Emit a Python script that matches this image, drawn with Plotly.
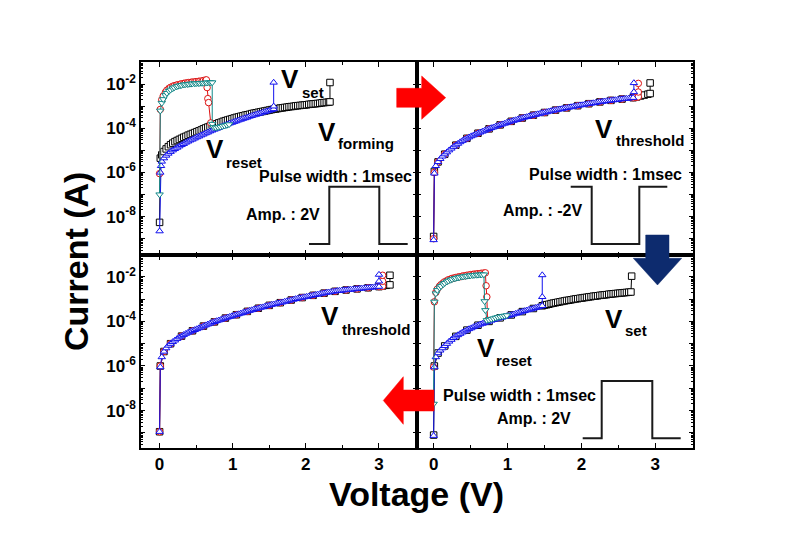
import numpy as np
import plotly.graph_objects as go

# ---------------- data (voltage V, log10 of current in A) ----------------
# Panel 1 : forming / set / reset
p1_black_forming = [(0.0,-8.26),(0.01,-5.35),(0.03,-5.20),(0.06,-5.05),(0.09,-4.93),(0.12,-4.83),(0.15,-4.74),(0.18,-4.67),(0.21,-4.60),(0.24,-4.55),(0.27,-4.50),(0.30,-4.45),(0.33,-4.40),(0.36,-4.36),(0.39,-4.31),(0.42,-4.27),(0.45,-4.23),(0.48,-4.19),(0.51,-4.15),(0.54,-4.11),(0.57,-4.07),(0.60,-4.02),(0.63,-3.98),(0.66,-3.94),(0.69,-3.90),(0.72,-3.86),(0.75,-3.83),(0.78,-3.79),(0.81,-3.75),(0.84,-3.72),(0.87,-3.68),(0.90,-3.65),(0.93,-3.62),(0.96,-3.59),(0.99,-3.56),(1.02,-3.53),(1.05,-3.50),(1.08,-3.48),(1.11,-3.45),(1.14,-3.43),(1.17,-3.40),(1.20,-3.38),(1.23,-3.36),(1.26,-3.33),(1.29,-3.31),(1.32,-3.29),(1.35,-3.27),(1.38,-3.25),(1.41,-3.23),(1.44,-3.21),(1.47,-3.19),(1.50,-3.17),(1.53,-3.15),(1.56,-3.13),(1.59,-3.12),(1.62,-3.10),(1.65,-3.08),(1.68,-3.07),(1.71,-3.05),(1.74,-3.04),(1.77,-3.02),(1.80,-3.01),(1.83,-3.00),(1.86,-2.98),(1.89,-2.97),(1.92,-2.96),(1.95,-2.95),(1.98,-2.94),(2.01,-2.93),(2.04,-2.91),(2.07,-2.90),(2.10,-2.89),(2.13,-2.88),(2.16,-2.87),(2.19,-2.86),(2.22,-2.84),(2.25,-2.83),(2.28,-2.82),(2.31,-2.81),(2.33,-2.80),(2.33,-1.92)]
p1_red_reset = [(0.0,-6.05),(0.01,-3.14),(0.03,-2.70),(0.05,-2.53),(0.08,-2.36),(0.10,-2.27),(0.13,-2.18),(0.15,-2.14),(0.18,-2.09),(0.20,-2.07),(0.23,-2.04),(0.25,-2.02),(0.28,-2.00),(0.30,-1.98),(0.33,-1.96),(0.35,-1.95),(0.38,-1.93),(0.40,-1.92),(0.43,-1.91),(0.45,-1.90),(0.48,-1.89),(0.50,-1.88),(0.53,-1.87),(0.55,-1.86),(0.58,-1.85),(0.60,-1.83),(0.63,-1.81),(0.64,-1.80),(0.65,-2.15),(0.66,-2.65),(0.67,-2.83),(0.70,-3.75)]
p1_blue_set = [(0.0,-8.66),(0.01,-6.00),(0.02,-5.70),(0.03,-5.50),(0.06,-5.35),(0.09,-5.23),(0.12,-5.14),(0.15,-5.06),(0.18,-4.99),(0.21,-4.93),(0.24,-4.87),(0.27,-4.81),(0.30,-4.75),(0.33,-4.70),(0.36,-4.64),(0.39,-4.59),(0.42,-4.54),(0.45,-4.50),(0.48,-4.45),(0.51,-4.40),(0.54,-4.36),(0.57,-4.31),(0.60,-4.27),(0.63,-4.22),(0.66,-4.18),(0.69,-4.13),(0.72,-4.09),(0.75,-4.05),(0.78,-4.01),(0.81,-3.97),(0.84,-3.93),(0.87,-3.89),(0.90,-3.85),(0.93,-3.81),(0.96,-3.77),(0.99,-3.74),(1.02,-3.70),(1.05,-3.67),(1.08,-3.63),(1.11,-3.60),(1.14,-3.56),(1.17,-3.53),(1.20,-3.50),(1.23,-3.46),(1.26,-3.43),(1.29,-3.40),(1.32,-3.37),(1.35,-3.34),(1.38,-3.31),(1.41,-3.28),(1.44,-3.25),(1.47,-3.22),(1.50,-3.19),(1.53,-3.16),(1.56,-3.12),(1.56,-3.00),(1.56,-1.92)]
p1_teal_reset = [(0.0,-7.00),(0.01,-3.20),(0.03,-2.85),(0.05,-2.68),(0.08,-2.50),(0.10,-2.40),(0.13,-2.31),(0.15,-2.25),(0.18,-2.19),(0.20,-2.15),(0.23,-2.11),(0.25,-2.08),(0.28,-2.06),(0.30,-2.04),(0.33,-2.02),(0.35,-2.01),(0.38,-2.00),(0.40,-1.99),(0.43,-1.98),(0.45,-1.97),(0.48,-1.965),(0.50,-1.96),(0.53,-1.955),(0.55,-1.95),(0.58,-1.945),(0.60,-1.94),(0.63,-1.935),(0.65,-1.93),(0.68,-1.925),(0.70,-1.92),(0.72,-1.92),(0.72,-3.80),(0.74,-3.95),(0.77,-3.97),(0.80,-3.95),(0.83,-3.93),(0.86,-3.90),(0.89,-3.88),(0.92,-3.85),(0.95,-3.82)]

# Panel 2 : threshold (after forming)
p2_black = [(0.0,-8.90),(0.01,-5.95),(0.06,-5.52),(0.15,-5.17),(0.30,-4.76),(0.45,-4.45),(0.60,-4.22),(0.75,-4.02),(0.90,-3.84),(1.05,-3.68),(1.20,-3.53),(1.35,-3.40),(1.50,-3.28),(1.65,-3.17),(1.80,-3.07),(1.95,-2.97),(2.10,-2.88),(2.25,-2.80),(2.40,-2.73),(2.55,-2.67),(2.70,-2.61),(2.75,-2.57),(2.80,-2.53),(2.85,-2.49),(2.90,-2.45),(2.93,-2.42),(2.93,-1.94)]
p2_red = [(0.0,-9.00),(0.01,-6.00),(0.06,-5.52),(0.15,-5.17),(0.30,-4.76),(0.45,-4.45),(0.60,-4.22),(0.75,-4.02),(0.90,-3.84),(1.05,-3.68),(1.20,-3.53),(1.35,-3.40),(1.50,-3.28),(1.65,-3.17),(1.80,-3.07),(1.95,-2.97),(2.10,-2.88),(2.25,-2.80),(2.40,-2.73),(2.55,-2.67),(2.70,-2.61),(2.74,-2.59),(2.77,-2.57),(2.77,-2.35),(2.77,-1.96)]
p2_blue = [(0.0,-9.06),(0.01,-6.04),(0.03,-5.70),(0.06,-5.52),(0.09,-5.38),(0.12,-5.27),(0.15,-5.17),(0.18,-5.08),(0.21,-4.99),(0.24,-4.91),(0.27,-4.83),(0.30,-4.76),(0.33,-4.69),(0.36,-4.62),(0.39,-4.56),(0.42,-4.50),(0.45,-4.45),(0.48,-4.40),(0.51,-4.35),(0.54,-4.31),(0.57,-4.26),(0.60,-4.22),(0.63,-4.18),(0.66,-4.14),(0.69,-4.10),(0.72,-4.06),(0.75,-4.02),(0.78,-3.98),(0.81,-3.95),(0.84,-3.91),(0.87,-3.88),(0.90,-3.84),(0.93,-3.81),(0.96,-3.78),(0.99,-3.74),(1.02,-3.71),(1.05,-3.68),(1.08,-3.65),(1.11,-3.62),(1.14,-3.59),(1.17,-3.56),(1.20,-3.53),(1.23,-3.50),(1.26,-3.48),(1.29,-3.45),(1.32,-3.43),(1.35,-3.40),(1.38,-3.38),(1.41,-3.35),(1.44,-3.33),(1.47,-3.30),(1.50,-3.28),(1.53,-3.26),(1.56,-3.23),(1.59,-3.21),(1.62,-3.19),(1.65,-3.17),(1.68,-3.15),(1.71,-3.13),(1.74,-3.11),(1.77,-3.09),(1.80,-3.07),(1.83,-3.05),(1.86,-3.03),(1.89,-3.01),(1.92,-2.99),(1.95,-2.97),(1.98,-2.95),(2.01,-2.94),(2.04,-2.92),(2.07,-2.90),(2.10,-2.88),(2.13,-2.87),(2.16,-2.85),(2.19,-2.84),(2.22,-2.82),(2.25,-2.80),(2.28,-2.79),(2.31,-2.77),(2.34,-2.76),(2.37,-2.75),(2.40,-2.73),(2.43,-2.72),(2.46,-2.71),(2.49,-2.70),(2.52,-2.68),(2.55,-2.67),(2.58,-2.66),(2.61,-2.65),(2.64,-2.64),(2.67,-2.62),(2.70,-2.61),(2.71,-2.35),(2.71,-1.94)]

# Panel 3 : threshold (after set)
p3_black = [(0.0,-8.95),(0.01,-6.00),(0.06,-5.35),(0.15,-5.00),(0.30,-4.66),(0.45,-4.42),(0.60,-4.21),(0.75,-4.02),(0.90,-3.85),(1.05,-3.70),(1.20,-3.55),(1.35,-3.41),(1.50,-3.28),(1.65,-3.16),(1.80,-3.04),(1.95,-2.93),(2.10,-2.83),(2.25,-2.73),(2.40,-2.65),(2.55,-2.59),(2.70,-2.54),(2.85,-2.49),(3.00,-2.44),(3.05,-2.41),(3.10,-2.38),(3.15,-2.36),(3.15,-1.93)]
p3_red = [(0.0,-8.95),(0.01,-6.00),(0.06,-5.35),(0.15,-5.00),(0.30,-4.66),(0.45,-4.42),(0.60,-4.21),(0.75,-4.02),(0.90,-3.85),(1.05,-3.70),(1.20,-3.55),(1.35,-3.41),(1.50,-3.28),(1.65,-3.16),(1.80,-3.04),(1.95,-2.93),(2.10,-2.83),(2.25,-2.73),(2.40,-2.65),(2.55,-2.59),(2.70,-2.54),(2.85,-2.49),(3.00,-2.44),(3.03,-2.43),(3.05,-2.42),(3.05,-2.20),(3.05,-1.93)]
p3_blue = [(0.0,-8.95),(0.01,-6.05),(0.03,-5.60),(0.06,-5.35),(0.09,-5.20),(0.12,-5.08),(0.15,-5.00),(0.18,-4.92),(0.21,-4.85),(0.24,-4.78),(0.27,-4.71),(0.30,-4.66),(0.33,-4.60),(0.36,-4.55),(0.39,-4.50),(0.42,-4.46),(0.45,-4.42),(0.48,-4.38),(0.51,-4.34),(0.54,-4.30),(0.57,-4.26),(0.60,-4.21),(0.63,-4.17),(0.66,-4.13),(0.69,-4.09),(0.72,-4.05),(0.75,-4.02),(0.78,-3.98),(0.81,-3.95),(0.84,-3.92),(0.87,-3.88),(0.90,-3.85),(0.93,-3.82),(0.96,-3.79),(0.99,-3.76),(1.02,-3.73),(1.05,-3.70),(1.08,-3.67),(1.11,-3.64),(1.14,-3.61),(1.17,-3.58),(1.20,-3.55),(1.23,-3.52),(1.26,-3.49),(1.29,-3.46),(1.32,-3.44),(1.35,-3.41),(1.38,-3.38),(1.41,-3.36),(1.44,-3.33),(1.47,-3.30),(1.50,-3.28),(1.53,-3.25),(1.56,-3.23),(1.59,-3.21),(1.62,-3.18),(1.65,-3.16),(1.68,-3.14),(1.71,-3.11),(1.74,-3.09),(1.77,-3.07),(1.80,-3.04),(1.83,-3.02),(1.86,-2.99),(1.89,-2.97),(1.92,-2.95),(1.95,-2.93),(1.98,-2.91),(2.01,-2.89),(2.04,-2.87),(2.07,-2.85),(2.10,-2.83),(2.13,-2.81),(2.16,-2.79),(2.19,-2.77),(2.22,-2.75),(2.25,-2.73),(2.28,-2.71),(2.31,-2.69),(2.34,-2.68),(2.37,-2.66),(2.40,-2.65),(2.43,-2.63),(2.46,-2.62),(2.49,-2.61),(2.52,-2.60),(2.55,-2.59),(2.58,-2.58),(2.61,-2.57),(2.64,-2.56),(2.67,-2.55),(2.70,-2.54),(2.73,-2.53),(2.76,-2.52),(2.79,-2.51),(2.82,-2.50),(2.85,-2.49),(2.88,-2.48),(2.91,-2.47),(2.94,-2.46),(2.97,-2.45),(3.00,-2.44),(3.00,-2.20),(3.00,-1.90)]

# Panel 4 : set / reset
p4_black = [(0.0,-9.10),(0.01,-6.00),(0.06,-5.42),(0.15,-5.10),(0.30,-4.67),(0.45,-4.39),(0.60,-4.17),(0.75,-4.00),(0.90,-3.84),(1.05,-3.71),(1.20,-3.56),(1.35,-3.42),(1.47,-3.30),(1.50,-3.27),(1.53,-3.25),(1.56,-3.23),(1.59,-3.20),(1.62,-3.18),(1.65,-3.16),(1.68,-3.14),(1.71,-3.12),(1.74,-3.10),(1.77,-3.08),(1.80,-3.06),(1.83,-3.05),(1.86,-3.03),(1.89,-3.01),(1.92,-2.99),(1.95,-2.98),(1.98,-2.96),(2.01,-2.95),(2.04,-2.93),(2.07,-2.92),(2.10,-2.90),(2.13,-2.89),(2.16,-2.87),(2.19,-2.86),(2.22,-2.85),(2.25,-2.83),(2.28,-2.82),(2.31,-2.81),(2.34,-2.80),(2.37,-2.78),(2.40,-2.77),(2.43,-2.76),(2.46,-2.75),(2.49,-2.74),(2.52,-2.73),(2.55,-2.72),(2.58,-2.71),(2.61,-2.70),(2.64,-2.69),(2.67,-2.68),(2.68,-1.97)]
p4_red = [(0.0,-6.05),(0.01,-3.12),(0.03,-2.70),(0.05,-2.55),(0.08,-2.42),(0.10,-2.35),(0.13,-2.27),(0.15,-2.22),(0.18,-2.17),(0.20,-2.13),(0.23,-2.10),(0.25,-2.07),(0.28,-2.05),(0.30,-2.03),(0.33,-2.01),(0.35,-2.00),(0.38,-1.98),(0.40,-1.96),(0.43,-1.95),(0.45,-1.93),(0.48,-1.92),(0.50,-1.90),(0.53,-1.89),(0.55,-1.88),(0.58,-1.87),(0.60,-1.86),(0.63,-1.85),(0.65,-1.84),(0.68,-1.83),(0.70,-1.82),(0.71,-2.40),(0.72,-2.90),(0.73,-3.95)]
p4_blue = [(0.0,-9.13),(0.01,-6.05),(0.03,-5.60),(0.06,-5.42),(0.09,-5.30),(0.12,-5.20),(0.15,-5.10),(0.18,-5.00),(0.21,-4.90),(0.24,-4.82),(0.27,-4.74),(0.30,-4.67),(0.33,-4.61),(0.36,-4.55),(0.39,-4.49),(0.42,-4.44),(0.45,-4.39),(0.48,-4.34),(0.51,-4.30),(0.54,-4.25),(0.57,-4.21),(0.60,-4.17),(0.63,-4.13),(0.66,-4.10),(0.69,-4.06),(0.72,-4.03),(0.75,-4.00),(0.78,-3.96),(0.81,-3.93),(0.84,-3.90),(0.87,-3.87),(0.90,-3.84),(0.93,-3.82),(0.96,-3.79),(0.99,-3.76),(1.02,-3.74),(1.05,-3.71),(1.08,-3.68),(1.11,-3.65),(1.14,-3.62),(1.17,-3.59),(1.20,-3.56),(1.23,-3.53),(1.26,-3.50),(1.29,-3.47),(1.32,-3.45),(1.35,-3.42),(1.38,-3.39),(1.41,-3.36),(1.44,-3.33),(1.47,-3.30),(1.47,-2.90),(1.47,-1.92)]
p4_teal = [(0.0,-7.70),(0.01,-3.12),(0.03,-2.75),(0.05,-2.60),(0.08,-2.49),(0.10,-2.42),(0.13,-2.34),(0.15,-2.28),(0.18,-2.22),(0.20,-2.18),(0.23,-2.14),(0.25,-2.11),(0.28,-2.08),(0.30,-2.06),(0.33,-2.04),(0.35,-2.02),(0.38,-2.00),(0.40,-1.99),(0.43,-1.975),(0.45,-1.96),(0.48,-1.95),(0.50,-1.94),(0.53,-1.93),(0.55,-1.92),(0.58,-1.915),(0.60,-1.91),(0.63,-1.905),(0.65,-1.90),(0.68,-1.90),(0.69,-3.10),(0.70,-3.50),(0.72,-3.95),(0.75,-3.93),(0.78,-3.90),(0.81,-3.87),(0.84,-3.84),(0.87,-3.81),(0.90,-3.79),(0.93,-3.77),(0.96,-3.75),(0.99,-3.73)]

x_tick_vals = [0, 1, 2, 3]
y_tick_exps = [-9, -8, -7, -6, -5, -4, -3, -2]
y_label_exps = [-8, -6, -4, -2]

# ---------------- layout geometry ----------------
W, H = 792, 554
ML, MR, MT, MB = 141, 99, 62, 106
PW, PH = W - ML - MR, H - MT - MB


def px(x):
    return (x - ML) / PW


def py(y):
    return (H - MB - y) / PH


FONT = "Liberation Sans, Arial, sans-serif"
BLACK = "#000000"
RED = "#dd1111"
BLUE = "#1111ee"
TEAL = "#118888"

style = {
    "black": dict(color=BLACK, symbol="square"),
    "red": dict(color=RED, symbol="circle"),
    "blue": dict(color=BLUE, symbol="triangle-up"),
    "teal": dict(color=TEAL, symbol="triangle-down"),
}

panels = [
    ("x", "y", [("black", p1_black_forming), ("red", p1_red_reset), ("blue", p1_blue_set), ("teal", p1_teal_reset)]),
    ("x2", "y2", [("black", p2_black), ("red", p2_red), ("blue", p2_blue)]),
    ("x3", "y3", [("black", p3_black), ("red", p3_red), ("blue", p3_blue)]),
    ("x4", "y4", [("black", p4_black), ("red", p4_red), ("blue", p4_blue), ("teal", p4_teal)]),
]

fig = go.Figure()
for xa, ya, series in panels:
    for key, data in series:
        v = [d[0] for d in data]
        cur = [10 ** d[1] for d in data]
        s = style[key]
        fig.add_trace(go.Scatter(
            x=v, y=cur, xaxis=xa, yaxis=ya, mode="lines+markers",
            line=dict(color=s["color"], width=1),
            marker=dict(symbol=s["symbol"], size=6.5, color="white", line=dict(width=1, color=s["color"])),
            showlegend=False, hoverinfo="skip"))

tickfont = dict(family=FONT, size=17, color="black", weight="bold")
minor_y = [k * 10.0 ** n for n in range(-10, -1) for k in range(2, 10)]


def xaxis(domain, anchor, rng, labels):
    return dict(domain=domain, anchor=anchor, range=rng, showline=True, linecolor="black",
                linewidth=1.5, mirror="ticks", ticks="inside", ticklen=5, tickwidth=1.2,
                tickcolor="black", tickvals=x_tick_vals, showticklabels=labels,
                tickfont=tickfont, showgrid=False, zeroline=False,
                minor=dict(tickvals=[0.5, 1.5, 2.5], ticks="inside", ticklen=3, tickwidth=1, tickcolor="black"))


def yaxis(domain, anchor, rng, labels):
    return dict(domain=domain, anchor=anchor, type="log", range=rng, showline=True,
                linecolor="black", linewidth=1.5, mirror="ticks", ticks="inside", ticklen=4,
                tickwidth=1.2, tickcolor="black",
                tickvals=[10.0 ** e for e in y_tick_exps],
                ticktext=[("10<sup>%d</sup>" % e) if e in y_label_exps else "" for e in y_tick_exps],
                showticklabels=labels, tickfont=tickfont, showgrid=False, zeroline=False,
                minor=dict(tickvals=minor_y, ticks="inside", ticklen=2, tickwidth=1, tickcolor="black"))


top_rng = [-9.74, -0.99]
bot_rng = [-9.68, -1.02]
xl_rng = [-0.254, 3.52]
xr_rng = [-0.225, 3.51]

fig.update_layout(
    width=W, height=H, margin=dict(l=ML, r=MR, t=MT, b=MB),
    paper_bgcolor="white", plot_bgcolor="white",
    xaxis=xaxis([0, 0.5], "y", xl_rng, False),
    yaxis=yaxis([0.5, 1], "x", top_rng, True),
    xaxis2=xaxis([0.5, 1], "y2", xr_rng, False),
    yaxis2=yaxis([0.5, 1], "x2", top_rng, False),
    xaxis3=xaxis([0, 0.5], "y3", xl_rng, True),
    yaxis3=yaxis([0, 0.5], "x3", bot_rng, True),
    xaxis4=xaxis([0.5, 1], "y4", xr_rng, True),
    yaxis4=yaxis([0, 0.5], "x4", bot_rng, False),
)

ann = []


def text(x, y, t, size, xanchor="center", angle=0):
    ann.append(dict(x=px(x), y=py(y), xref="paper", yref="paper", text=t, showarrow=False,
                    xanchor=xanchor, yanchor="middle", textangle=angle,
                    font=dict(family=FONT, size=size, color="black", weight="bold")))


def vlabel(vx, vy, sub, sx, sy):
    text(vx, vy, "V", 26)
    text(sx, sy, sub, 15, xanchor="left")


# panel 1
vlabel(290, 79, "set", 300, 93)
vlabel(326.5, 131.5, "forming", 336, 143.5)
vlabel(215, 149, "reset", 224, 162)
text(335, 176.5, "Pulse width : 1msec", 16)
text(283, 214.5, "Amp. : 2V", 16)
# panel 2
vlabel(604.3, 129, "threshold", 613.5, 140)
text(605, 174, "Pulse width : 1msec", 16)
text(542, 210.5, "Amp. : -2V", 16)
# panel 3
vlabel(330, 316, "threshold", 339.5, 329)
# panel 4
vlabel(614, 319, "set", 622.5, 330)
vlabel(485.5, 347.5, "reset", 493.5, 360)
text(519.5, 395, "Pulse width : 1msec", 16)
text(533.5, 418.5, "Amp. : 2V", 16)
# axis titles
text(76, 262, "Current (A)", 34, angle=-90)
text(416, 494, "Voltage (V)", 34)

fig.update_layout(annotations=ann)


def path(points, close=False):
    s = "M " + " L ".join("%.5f,%.5f" % (px(a), py(b)) for a, b in points)
    return s + (" Z" if close else "")


shapes = []
pulse_line = dict(color="#1a1a1a", width=2)
for pts in [
    [(309, 244), (329.3, 244), (329.3, 186.7), (379.3, 186.7), (379.3, 244), (407.7, 244)],
    [(570.7, 186.7), (591.7, 186.7), (591.7, 244), (639.3, 244), (639.3, 186.7), (667.3, 186.7)],
    [(582.7, 438.3), (601.7, 438.3), (601.7, 381), (652.3, 381), (652.3, 438.3), (680.7, 438.3)],
]:
    shapes.append(dict(type="path", xref="paper", yref="paper", path=path(pts), line=pulse_line, layer="above"))

arrows = [
    ([(396.7, 88.3), (421.7, 88.3), (421.7, 76), (445.7, 97.7), (421.7, 119.3), (421.7, 107.3), (396.7, 107.3)], "#ff0000"),
    ([(383.3, 400.5), (403.3, 376.7), (403.3, 390), (434, 390), (434, 411), (403.3, 411), (403.3, 424.3)], "#ff0000"),
    ([(645.7, 235), (669, 235), (669, 258.3), (681.7, 258.3), (657.5, 285), (633.3, 258.3), (645.7, 258.3)], "#0d2b6e"),
]
for pts, col in arrows:
    shapes.append(dict(type="path", xref="paper", yref="paper", path=path(pts, True),
                       fillcolor=col, line=dict(color=col, width=0.5), layer="above"))

fig.update_layout(shapes=shapes)
fig.write_html("out.html")
